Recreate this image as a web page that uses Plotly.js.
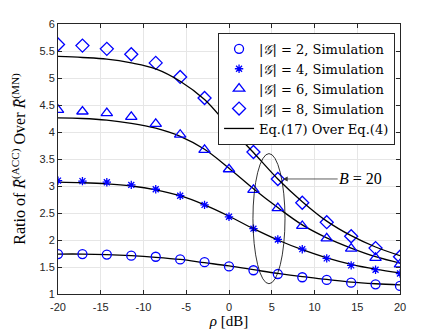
<!DOCTYPE html>
<html><head><meta charset="utf-8">
<script src="https://cdn.plot.ly/plotly-3.0.1.min.js"></script>
<style>html,body{margin:0;padding:0;background:#fff;}</style>
</head><body>
<div id="chart" style="width:443px;height:331px;"></div>
<script>
const rho = [-20, -17.14, -14.29, -11.43, -8.57, -5.71, -2.86, 0, 2.86, 5.71, 8.57, 11.43, 14.29, 17.14, 20];
const simG2 = [1.74, 1.74, 1.73, 1.71, 1.69, 1.64, 1.59, 1.51, 1.44, 1.37, 1.31, 1.26, 1.21, 1.18, 1.15];
const simG4 = [3.10, 3.09, 3.07, 3.02, 2.94, 2.82, 2.65, 2.43, 2.21, 2.01, 1.83, 1.66, 1.53, 1.45, 1.38];
const simG6 = [4.41, 4.38, 4.35, 4.28, 4.15, 3.95, 3.67, 3.31, 2.93, 2.59, 2.26, 2.03, 1.84, 1.67, 1.55];
const simG8 = [5.62, 5.60, 5.54, 5.44, 5.28, 5.02, 4.63, 4.13, 3.63, 3.13, 2.69, 2.33, 2.07, 1.85, 1.69];
const eqG2 = [1.74, 1.74, 1.73, 1.71, 1.68, 1.64, 1.58, 1.52, 1.45, 1.38, 1.32, 1.27, 1.22, 1.19, 1.17];
const eqG4 = [3.07, 3.06, 3.04, 3.00, 2.93, 2.82, 2.65, 2.44, 2.21, 2.00, 1.82, 1.67, 1.55, 1.46, 1.39];
const eqG6 = [4.26, 4.25, 4.22, 4.16, 4.07, 3.92, 3.68, 3.33, 2.95, 2.60, 2.28, 2.04, 1.85, 1.69, 1.57];
const eqG8 = [5.40, 5.38, 5.35, 5.28, 5.17, 4.94, 4.60, 4.10, 3.62, 3.13, 2.71, 2.35, 2.08, 1.87, 1.71];
const legendNames = ['|<i>𝒢</i>| = 2, Simulation', '|<i>𝒢</i>| = 4, Simulation', '|<i>𝒢</i>| = 6, Simulation', '|<i>𝒢</i>| = 8, Simulation', 'Eq.(17) Over Eq.(4)'];
const xTicks = [-20, -15, -10, -5, 0, 5, 10, 15, 20];
const yTicks = [1, 1.5, 2, 2.5, 3, 3.5, 4, 4.5, 5, 5.5, 6];

const blue = '#0000ff';
const serif = 'Liberation Serif, DejaVu Serif, serif';
function simTrace(y, name, symbol, size) {
  return {x: rho, y: y, name: name, mode: 'markers', type: 'scatter',
    marker: {symbol: symbol, size: size, color: blue, line: {color: blue, width: 1.3}}};
}
function eqTrace(y, show) {
  return {x: rho, y: y, name: legendNames[4], mode: 'lines', type: 'scatter', showlegend: show,
    line: {color: '#000', width: 1.3, shape: 'spline'}};
}
const data = [
  eqTrace(eqG2, false), eqTrace(eqG4, false), eqTrace(eqG6, false),
  simTrace(simG2, legendNames[0], 'circle-open', 9),
  simTrace(simG4, legendNames[1], 'asterisk-open', 7),
  simTrace(simG6, legendNames[2], 'triangle-up-open', 10),
  simTrace(simG8, legendNames[3], 'diamond-open', 10),
  eqTrace(eqG8, true)
];
const axisCommon = {
  showline: true, linecolor: '#262626', linewidth: 1, mirror: 'ticks',
  ticks: 'inside', ticklen: 4, tickcolor: '#262626',
  showgrid: true, gridcolor: '#e6e6e6', gridwidth: 1, zeroline: false,
  tickfont: {family: 'Liberation Sans, Arial, sans-serif', size: 11, color: '#262626'}
};
const layout = {
  width: 443, height: 331,
  margin: {l: 58, r: 43, t: 24, b: 37},
  paper_bgcolor: '#fff', plot_bgcolor: '#fff',
  showlegend: true,
  legend: {x: 0.468, y: 0.967, xanchor: 'left', yanchor: 'top',
    bgcolor: '#fff', bordercolor: '#262626', borderwidth: 1,
    font: {family: 'DejaVu Serif, serif', size: 13, color: '#000'}, tracegroupgap: 0, itemwidth: 30},
  xaxis: Object.assign({}, axisCommon, {range: [-20, 20], tickvals: xTicks, ticktext: xTicks.map(String),
    ticklabelstandoff: 3,
    title: {text: '<i>ρ</i> [dB]', font: {family: serif, size: 15, color: '#000'}, standoff: 2}}),
  yaxis: Object.assign({}, axisCommon, {range: [1, 6], tickvals: yTicks, ticktext: yTicks.map(String),
    title: {text: 'Ratio of <i>R̄</i><sup>(ACC)</sup> Over <i>R̄</i><sup>(MN)</sup>', font: {family: serif, size: 16, color: '#000'}, standoff: 9}}),
  shapes: [{type: 'circle', xref: 'x', yref: 'y', x0: 2.8, x1: 6.55, y0: 1.19, y1: 3.6,
    line: {color: '#000', width: 0.8}}],
  annotations: [{x: 6.3, y: 3.13, xref: 'x', yref: 'y', axref: 'x', ayref: 'y', ax: 15.4, ay: 3.13,
    text: '<i>B</i> = 20', showarrow: true, arrowhead: 2, arrowsize: 1.2, arrowwidth: 0.8, arrowcolor: '#333',
    font: {family: serif, size: 16, color: '#000'}}]
};
Plotly.newPlot('chart', data, layout, {displayModeBar: false, staticPlot: true});
</script>
</body></html>
